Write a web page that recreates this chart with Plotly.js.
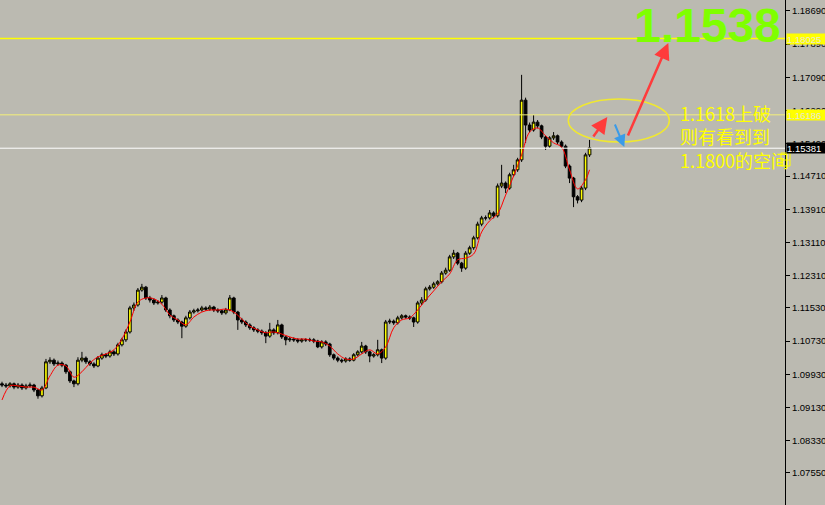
<!DOCTYPE html>
<html><head><meta charset="utf-8">
<script src="https://cdn.plot.ly/plotly-3.0.1.min.js"></script>
<style>html,body{margin:0;padding:0;background:#bbbab1;}#chart{width:825px;height:505px;}</style>
</head><body><div id="chart"></div>
<script>
const opens = [1.0970,1.0967,1.0965,1.0970,1.0962,1.0967,1.0960,1.0965,1.0967,1.0955,
1.0941,1.0960,1.1023,1.1027,1.1018,1.1020,1.1015,1.0999,1.0977,1.0970,
1.1027,1.1032,1.1023,1.1018,1.1013,1.1032,1.1040,1.1037,1.1047,1.1042,
1.1064,1.1076,1.1095,1.1153,1.1160,1.1196,1.1203,1.1177,1.1172,1.1165,
1.1167,1.1177,1.1148,1.1134,1.1124,1.1119,1.1109,1.1129,1.1143,1.1146,
1.1148,1.1153,1.1150,1.1155,1.1148,1.1146,1.1141,1.1148,1.1177,1.1143,
1.1124,1.1119,1.1112,1.1105,1.1100,1.1097,1.1093,1.1085,1.1100,1.1093,
1.1112,1.1083,1.1076,1.1078,1.1076,1.1073,1.1076,1.1076,1.1076,1.1073,
1.1059,1.1071,1.1066,1.1040,1.1032,1.1027,1.1025,1.1030,1.1027,1.1040,
1.1047,1.1061,1.1047,1.1037,1.1040,1.1052,1.1032,1.1119,1.1121,1.1117,
1.1129,1.1134,1.1131,1.1129,1.1119,1.1165,1.1172,1.1199,1.1203,1.1211,
1.1216,1.1237,1.1244,1.1276,1.1285,1.1261,1.1249,1.1285,1.1298,1.1322,
1.1355,1.1370,1.1370,1.1382,1.1375,1.1447,1.1454,1.1442,1.1474,1.1486,
1.1510,1.1654,1.1594,1.1582,1.1601,1.1592,1.1565,1.1543,1.1563,1.1568,
1.1553,1.1543,1.1495,1.1466,1.1421,1.1413,1.1442,1.1522];
const closes = [1.0967,1.0965,1.0970,1.0962,1.0967,1.0960,1.0965,1.0967,1.0955,1.0941,
1.0960,1.1023,1.1027,1.1018,1.1020,1.1015,1.0999,1.0977,1.0970,1.1027,
1.1032,1.1023,1.1018,1.1013,1.1032,1.1040,1.1037,1.1047,1.1042,1.1064,
1.1076,1.1095,1.1153,1.1160,1.1196,1.1203,1.1177,1.1172,1.1165,1.1167,
1.1177,1.1148,1.1134,1.1124,1.1119,1.1109,1.1129,1.1143,1.1146,1.1148,
1.1153,1.1150,1.1155,1.1148,1.1146,1.1141,1.1148,1.1177,1.1143,1.1124,
1.1119,1.1112,1.1105,1.1100,1.1097,1.1093,1.1085,1.1100,1.1093,1.1112,
1.1083,1.1076,1.1078,1.1076,1.1073,1.1076,1.1076,1.1076,1.1073,1.1059,
1.1071,1.1066,1.1040,1.1032,1.1027,1.1025,1.1030,1.1027,1.1040,1.1047,
1.1061,1.1047,1.1037,1.1040,1.1052,1.1032,1.1119,1.1121,1.1117,1.1129,
1.1134,1.1131,1.1129,1.1119,1.1165,1.1172,1.1199,1.1203,1.1211,1.1216,
1.1237,1.1244,1.1276,1.1285,1.1261,1.1249,1.1285,1.1298,1.1322,1.1355,
1.1370,1.1370,1.1382,1.1375,1.1447,1.1454,1.1442,1.1474,1.1486,1.1510,
1.1654,1.1594,1.1582,1.1601,1.1592,1.1565,1.1543,1.1563,1.1568,1.1553,
1.1543,1.1495,1.1466,1.1421,1.1413,1.1442,1.1522,1.1539];
const highs = [1.0975,1.0972,1.0974,1.0973,1.0972,1.0971,1.0970,1.0973,1.0970,1.0958,
1.0965,1.1030,1.1034,1.1031,1.1026,1.1024,1.1018,1.1002,1.0980,1.1034,
1.1047,1.1036,1.1027,1.1022,1.1037,1.1045,1.1044,1.1052,1.1051,1.1069,
1.1081,1.1101,1.1158,1.1166,1.1201,1.1211,1.1206,1.1182,1.1176,1.1172,
1.1184,1.1180,1.1152,1.1137,1.1128,1.1122,1.1134,1.1148,1.1151,1.1153,
1.1158,1.1157,1.1160,1.1158,1.1152,1.1149,1.1153,1.1184,1.1180,1.1146,
1.1129,1.1123,1.1116,1.1109,1.1104,1.1101,1.1097,1.1117,1.1104,1.1124,
1.1115,1.1086,1.1083,1.1082,1.1080,1.1080,1.1080,1.1081,1.1080,1.1076,
1.1075,1.1075,1.1069,1.1043,1.1036,1.1031,1.1034,1.1034,1.1044,1.1051,
1.1071,1.1064,1.1050,1.1044,1.1076,1.1055,1.1124,1.1127,1.1125,1.1134,
1.1138,1.1137,1.1135,1.1132,1.1170,1.1179,1.1204,1.1208,1.1216,1.1220,
1.1242,1.1250,1.1281,1.1293,1.1288,1.1264,1.1290,1.1303,1.1327,1.1361,
1.1375,1.1376,1.1389,1.1386,1.1453,1.1498,1.1458,1.1479,1.1498,1.1515,
1.1715,1.1660,1.1600,1.1618,1.1606,1.1595,1.1568,1.1567,1.1577,1.1571,
1.1557,1.1547,1.1499,1.1469,1.1425,1.1447,1.1527,1.1558];
const lows = [1.0962,1.0960,1.0961,1.0957,1.0958,1.0955,1.0956,1.0961,1.0950,1.0934,
1.0937,1.0957,1.1018,1.1013,1.1014,1.1010,1.0994,1.0972,1.0962,1.0966,
1.1022,1.1018,1.1013,1.1008,1.1010,1.1028,1.1032,1.1033,1.1037,1.1038,
1.1060,1.1071,1.1091,1.1146,1.1156,1.1192,1.1172,1.1166,1.1160,1.1161,
1.1163,1.1143,1.1128,1.1119,1.1114,1.1080,1.1105,1.1125,1.1139,1.1142,
1.1144,1.1146,1.1146,1.1143,1.1141,1.1136,1.1137,1.1145,1.1138,1.1100,
1.1114,1.1107,1.1100,1.1095,1.1092,1.1088,1.1068,1.1081,1.1088,1.1089,
1.1078,1.1063,1.1071,1.1071,1.1068,1.1069,1.1071,1.1071,1.1068,1.1056,
1.1055,1.1061,1.1035,1.1027,1.1022,1.1020,1.1021,1.1023,1.1024,1.1036,
1.1043,1.1042,1.1022,1.1033,1.1036,1.1020,1.1028,1.1114,1.1112,1.1113,
1.1125,1.1127,1.1124,1.1107,1.1115,1.1160,1.1168,1.1195,1.1199,1.1207,
1.1212,1.1233,1.1240,1.1271,1.1256,1.1240,1.1245,1.1281,1.1293,1.1318,
1.1350,1.1364,1.1366,1.1369,1.1371,1.1442,1.1430,1.1438,1.1470,1.1481,
1.1505,1.1551,1.1576,1.1578,1.1586,1.1560,1.1534,1.1539,1.1558,1.1548,
1.1538,1.1490,1.1454,1.1396,1.1405,1.1408,1.1437,1.1517];
const barIndex = opens.map((_, i) => i);

const maX = [0,2,4,6,8,10,12,14,16,18,20,22,24,26,28,30,32,34,36,38,40,42,44,46,48,50,52,54,56,58,
60,62,64,66,68,70,72,74,76,78,80,82,84,86,88,90,92,94,96,98,100,102,104,106,108,110,112,114,116,118,
120,122,124,126,128,130,132,134,136,138,140,142,144,146,147];
const maY = [1.0931,1.0965,1.0965,1.0962,1.0962,1.0955,1.0989,1.1015,1.1013,1.0986,
1.0999,1.1020,1.1035,1.1042,1.1052,1.1078,1.1119,1.1167,1.1177,1.1175,
1.1162,1.1136,1.1124,1.1112,1.1131,1.1143,1.1148,1.1148,1.1150,1.1143,
1.1126,1.1109,1.1100,1.1093,1.1095,1.1090,1.1083,1.1078,1.1078,1.1073,
1.1071,1.1061,1.1042,1.1030,1.1030,1.1042,1.1052,1.1042,1.1059,1.1105,
1.1124,1.1129,1.1148,1.1172,1.1194,1.1216,1.1235,1.1269,1.1273,1.1283,
1.1336,1.1363,1.1380,1.1425,1.1471,1.1522,1.1577,1.1587,1.1568,1.1551,
1.1541,1.1486,1.1440,1.1462,1.1486];

const tickVals = [1.18690,1.17890,1.17090,1.16290,1.15490,1.14710,1.13910,1.13110,1.12310,1.11530,1.10730,1.09930,1.09130,1.08330,1.07550,1.06750];
const tickText = ["1.18690","1.17890","1.17090","1.16290","1.15490","1.14710","1.13910","1.13110","1.12310","1.11530","1.10730","1.09930","1.09130","1.08330","1.07550","1.06750"];

const levelTop = 1.18025, levelMid = 1.16186, levelLast = 1.15381;
const bigLabel = "1.1538";
const noteText = "1.1618上破<br>则有看到到<br>1.1800的空间";

const BG = "#bbbab1";

const candles = {
  type: "candlestick", x: barIndex, open: opens, high: highs, low: lows, close: closes,
  increasing: {line: {color: "#000000", width: 1}, fillcolor: "#ffff00"},
  decreasing: {line: {color: "#000000", width: 1}, fillcolor: "#000000"},
  whiskerwidth: 0, hoverinfo: "skip", showlegend: false
};
const ma = {type: "scatter", mode: "lines", x: maX, y: maY, line: {color: "#ff0000", width: 1, shape: "spline"}, hoverinfo: "skip", showlegend: false};

const pxToX = px => px / 3.995 - 0.5;
const Y0 = 1.18955, K = 0.00024114;
const pyToY = py => Y0 - K * py;

function arrow(x0, y0, x1, y1, color, w, size) {
  return {x: pxToX(x1), y: pyToY(y1), ax: pxToX(x0), ay: pyToY(y0), xref: "x", yref: "y", axref: "x", ayref: "y",
    showarrow: true, arrowhead: 2, arrowsize: size, arrowwidth: w, arrowcolor: color, text: ""};
}
function tag(val, txt, bg, fg) {
  return {xref: "paper", yref: "y", x: 1, y: val, xanchor: "left", yanchor: "middle", xshift: 1,
    text: txt, showarrow: false, bgcolor: bg, width: 38, height: 10, borderpad: 0,
    font: {family: "Liberation Sans, Arial, sans-serif", size: 9.5, color: fg}, align: "left"};
}

const layout = {
  width: 825, height: 505,
  margin: {l: 0, r: 40, t: 0, b: 0},
  paper_bgcolor: BG, plot_bgcolor: BG,
  showlegend: false,
  boxgap: 0.05,
  xaxis: {range: [-0.5, 195.9], showgrid: false, zeroline: false, showticklabels: false, ticks: "", showline: false, rangeslider: {visible: false}, fixedrange: true},
  yaxis: {side: "right", range: [pyToY(505), pyToY(0)], showgrid: false, zeroline: false,
    showline: true, linecolor: "#000000", linewidth: 1, ticks: "outside", ticklen: 4, tickcolor: "#000000",
    tickvals: tickVals, ticktext: tickText, tickfont: {family: "Liberation Sans, Arial, sans-serif", size: 9.5, color: "#000000"}, fixedrange: true},
  shapes: [
    {type: "line", xref: "paper", yref: "y", x0: 0, x1: 1, y0: levelTop, y1: levelTop, line: {color: "#ffff00", width: 1.5}},
    {type: "line", xref: "paper", yref: "y", x0: 0, x1: 1, y0: levelMid, y1: levelMid, line: {color: "#f4f07a", width: 1}},
    {type: "line", xref: "paper", yref: "y", x0: 0, x1: 1, y0: levelLast, y1: levelLast, line: {color: "#ffffff", width: 1}},
    {type: "circle", xref: "x", yref: "y", x0: pxToX(568), x1: pxToX(669), y0: pyToY(142), y1: pyToY(99), line: {color: "#f0e830", width: 1.5}},
    {type: "rect", xref: "paper", yref: "y", x0: 781/785, x1: 790/785, y0: pyToY(166), y1: pyToY(153), line: {color: "#ffff00", width: 1}},
    {type: "line", xref: "paper", yref: "y", x0: 781/785, x1: 790/785, y0: pyToY(160), y1: pyToY(160), line: {color: "#ffff00", width: 1}}
  ],
  annotations: [
    arrow(592, 138, 607, 117, "#ff3b3b", 2.5, 1.3),
    arrow(627, 137, 668, 43, "#ff3b3b", 2.5, 1.3),
    arrow(614, 123, 624, 147, "#3a9be8", 2, 1.2),
    {xref: "paper", yref: "paper", x: 782/785, y: 1 - 25/505, xanchor: "right", yanchor: "middle", showarrow: false, borderpad: 0,
      text: "<b>" + bigLabel + "</b>", font: {family: "Liberation Sans, Arial, sans-serif", size: 48, color: "#7fff00"}},
    {xref: "paper", yref: "paper", x: 678/785, y: 1 - 98/505, xanchor: "left", yanchor: "top", showarrow: false, align: "left",
      text: noteText, font: {family: "Noto Sans CJK SC, sans-serif", size: 18, color: "#ffff00"}},
    tag(levelTop, "1.18025", "#ffff00", "#e6e6d6"),
    tag(levelMid, "1.16186", "#ffff00", "#e6e6d6"),
    tag(levelLast, "1.15381", "#000000", "#ffffff")
  ]
};

Plotly.newPlot("chart", [candles, ma], layout, {staticPlot: true, displayModeBar: false});
</script></body></html>
